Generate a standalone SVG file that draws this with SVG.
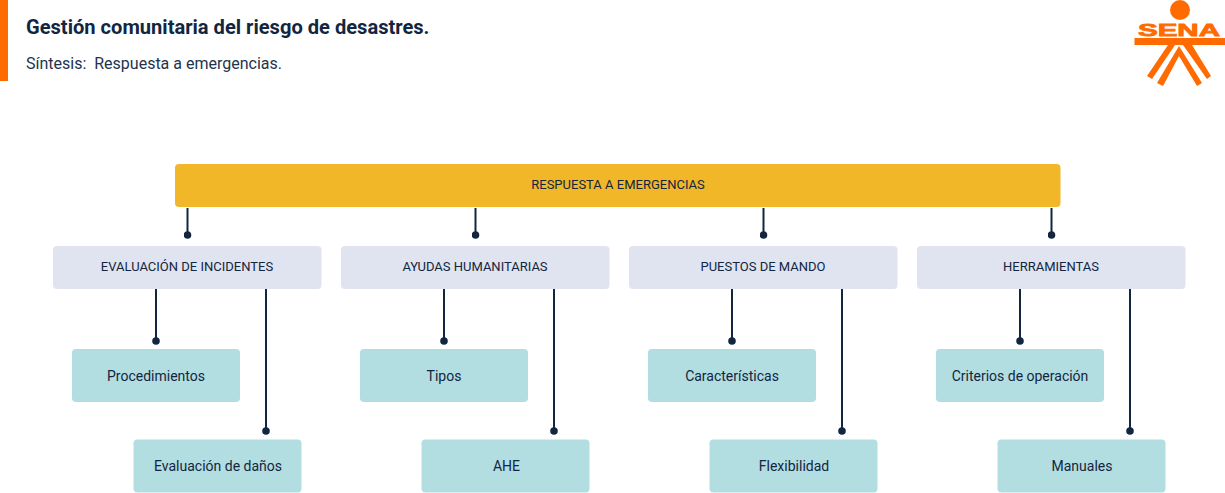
<svg xmlns="http://www.w3.org/2000/svg" width="1225" height="493" viewBox="0 0 1225 493">
<style>
text{font-family:Roboto,"Liberation Sans",sans-serif;fill:#12263f;text-anchor:middle}
.t12{font-size:13px}
.t14{font-size:14px}
.top{fill:#f2b629}
.mid{fill:#dfe4f0}
.leaf{fill:#b2dde1}
.c{stroke:#12263f;stroke-width:2;fill:none;marker-end:url(#dot)}
.o{fill:#ff6b00}
</style>
<defs><marker id="dot" markerUnits="userSpaceOnUse" markerWidth="8" markerHeight="8" refX="4" refY="4"><circle cx="4" cy="4" r="3.8" fill="#12263f"/></marker></defs>
<rect width="1225" height="493" fill="#fff"/>
<g id="header">
<rect class="o" x="0" y="0" width="8" height="81"/>
<text x="26" y="34" font-size="20.100" font-weight="700" style="text-anchor:start">Gestión comunitaria del riesgo de desastres.</text>
<text x="26" y="69" font-size="16" font-weight="400" style="text-anchor:start;fill:#22344d" xml:space="preserve">Síntesis:  Respuesta a emergencias.</text>
</g>
<g id="logo">
<circle class="o" cx="1180" cy="10" r="10"/>
<text x="1179" y="35.500" font-size="17" textLength="82" lengthAdjust="spacingAndGlyphs" stroke="#ff6b00" stroke-width="0.800" style="fill:#ff6b00;font-family:'Liberation Sans',sans-serif;font-weight:700">SENA</text>
<rect class="o" x="1134.500" y="38" width="90.500" height="7"/>
<polygon class="o" points="1168,45 1147,76 1152,79 1175,45"/>
<polygon class="o" points="1183,45 1207,79 1211,76 1192,45"/>
<polygon class="o" points="1179,46 1202,83 1197,86 1179,56 1163,86 1157,83"/>
</g>
<g id="connectors">
<path class="c" d="M187.500 208V235"/><path class="c" d="M475.500 208V235"/><path class="c" d="M763.500 208V235"/><path class="c" d="M1051.500 208V235"/>
<path class="c" d="M156 289V341"/><path class="c" d="M266 289V431"/>
<path class="c" d="M444 289V341"/><path class="c" d="M554 289V431"/>
<path class="c" d="M732 289V341"/><path class="c" d="M842 289V431"/>
<path class="c" d="M1020 289V341"/><path class="c" d="M1130 289V431"/>
</g>
<g id="n-root"><rect class="top" x="175" y="164" width="885.500" height="43" rx="4"/><text class="t12" x="618" y="189">RESPUESTA A EMERGENCIAS</text></g>
<g id="n-evaluacion"><rect class="mid" x="53" y="246" width="268.500" height="43" rx="4"/><text class="t12" x="187" y="271">EVALUACIÓN DE INCIDENTES</text></g>
<g id="n-ayudas"><rect class="mid" x="341" y="246" width="268.500" height="43" rx="4"/><text class="t12" x="475" y="271">AYUDAS HUMANITARIAS</text></g>
<g id="n-puestos"><rect class="mid" x="629" y="246" width="268.500" height="43" rx="4"/><text class="t12" x="763" y="271">PUESTOS DE MANDO</text></g>
<g id="n-herramientas"><rect class="mid" x="917" y="246" width="268.500" height="43" rx="4"/><text class="t12" x="1051" y="271">HERRAMIENTAS</text></g>
<g id="n-procedimientos"><rect class="leaf" x="72" y="349" width="168" height="53" rx="4"/><text class="t14" x="156" y="381">Procedimientos</text></g>
<g id="n-danos"><rect class="leaf" x="133.500" y="439.500" width="168" height="53" rx="4"/><text class="t14" x="218" y="471">Evaluación de daños</text></g>
<g id="n-tipos"><rect class="leaf" x="360" y="349" width="168" height="53" rx="4"/><text class="t14" x="444" y="381">Tipos</text></g>
<g id="n-ahe"><rect class="leaf" x="421.500" y="439.500" width="168" height="53" rx="4"/><text class="t14" x="506.500" y="471">AHE</text></g>
<g id="n-caracteristicas"><rect class="leaf" x="648" y="349" width="168" height="53" rx="4"/><text class="t14" x="732" y="381">Características</text></g>
<g id="n-flexibilidad"><rect class="leaf" x="709.500" y="439.500" width="168" height="53" rx="4"/><text class="t14" x="794" y="471">Flexibilidad</text></g>
<g id="n-criterios"><rect class="leaf" x="936" y="349" width="168" height="53" rx="4"/><text class="t14" x="1020" y="381">Criterios de operación</text></g>
<g id="n-manuales"><rect class="leaf" x="997.500" y="439.500" width="168" height="53" rx="4"/><text class="t14" x="1082" y="471">Manuales</text></g>
</svg>
